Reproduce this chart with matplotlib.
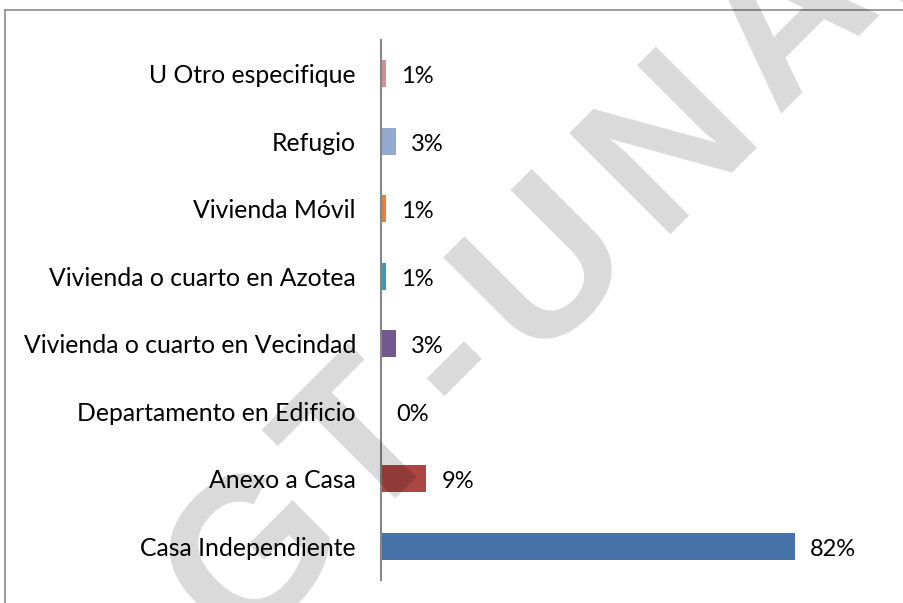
import matplotlib.pyplot as plt
from matplotlib.lines import Line2D

# datos
categorias = ["Casa Independiente", "Anexo a Casa", "Departamento en Edificio",
              "Vivienda o cuarto en Vecindad", "Vivienda o cuarto en Azotea",
              "Vivienda Móvil", "Refugio", "U Otro especifique"]
porcentajes = [82, 9, 0, 3, 1, 1, 3, 1]
colores = ["#4672A8", "#AA4643", "#4672A8", "#71588F", "#4198AF",
           "#DB843D", "#93A9CF", "#D19392"]

plt.rcParams['font.family'] = ['Lato', 'DejaVu Sans']

fig = plt.figure(figsize=(9.04, 6.03), dpi=100)
ax = fig.add_axes([381 / 904, 1 - 580 / 603, 454 / 904, 540 / 603])

pos = list(range(len(categorias)))
ax.barh(pos, porcentajes, height=0.4, color=colores, zorder=2)
ax.set_xlim(0, 90)
ax.set_ylim(-0.5, len(categorias) - 0.5)
ax.set_yticks(pos)
ax.set_yticklabels(categorias, fontsize=17.8)
ax.tick_params(axis='y', length=0, pad=18)
ax.set_xticks([])
for s in ['top', 'right', 'bottom']:
    ax.spines[s].set_visible(False)
ax.spines['left'].set_color('#868686')
ax.spines['left'].set_linewidth(1.5)
ax.spines['left'].set_zorder(3)

for p, v in zip(pos, porcentajes):
    ax.annotate(f"{v}%", (v, p), xytext=(11, -2), textcoords='offset points',
                va='center', ha='left', fontsize=17, zorder=5)

# borde del recuadro
fig.add_artist(Line2D([5 / 904, 5 / 904], [0, 1 - 10 / 603], transform=fig.transFigure,
                      color='#8c8c8c', lw=1.2))
fig.add_artist(Line2D([5 / 904, 1], [1 - 10 / 603, 1 - 10 / 603], transform=fig.transFigure,
                      color='#8c8c8c', lw=1.2))

# marca de agua, letra por letra a lo largo de la diagonal
letras = ["D", "G", "T", "-", "U", "N", "A", "M"]
avance = [-560, -300, -80, 90, 280, 530, 770, 1010]
for letra, u in zip(letras, avance):
    px = (815 + u) / 2
    py = (815 - u) / 2
    fig.text(px / 904, 1 - py / 603, letra, rotation=45, rotation_mode='anchor',
             ha='center', va='center', fontsize=150, fontweight='bold',
             family='Liberation Sans', color='black', alpha=0.15, zorder=4)

fig.savefig("out.png", dpi=100)
